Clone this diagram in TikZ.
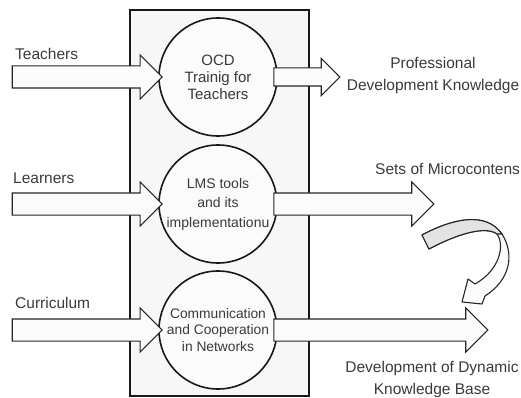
\documentclass[tikz,border=0pt]{standalone}
\usepackage{fontspec}
\setmainfont{Liberation Sans}
\usetikzlibrary{shapes.arrows, positioning}
\definecolor{inkgray}{HTML}{3A3A3A}

\begin{document}
\begin{tikzpicture}[x=1pt, y=-1pt,
    panel/.style   = {rectangle, draw=black!90, line width=2.6pt, fill=gray!6,
                      minimum width=179pt, minimum height=386pt, inner sep=0pt},
    stage/.style   = {circle, draw=black!90, line width=1.6pt, fill=gray!3,
                      minimum size=118pt, inner sep=0pt, align=center, text=inkgray},
    feed/.style    = {single arrow, draw=black!85, line width=1.1pt, fill=gray!3,
                      inner xsep=0pt, inner ysep=10.5pt, outer sep=0pt,
                      single arrow head extend=11pt},
    slimfeed/.style= {feed, inner ysep=8.5pt, single arrow head extend=9.5pt},
    lbl/.style     = {inner sep=0pt, text=inkgray, font=\fontsize{15.5}{22}\selectfont},
    ribbon/.style  = {draw=black!85, line width=1.1pt, line join=round}
  ]
  \useasboundingbox (0,0) rectangle (521,398);

  % -- frame and the three stages ---------------------------------------
  \node[panel] (frame) at (219.5,203) {};
  \node[stage, font=\fontsize{15}{17}\selectfont]     (ocd) at (218,77)  {OCD\\Trainig for\\Teachers};
  \node[stage, font=\fontsize{14}{19.5}\selectfont]   (lms) at (218,204) {LMS tools\\and its\\implementationu};
  \node[stage, font=\fontsize{13.8}{16.5}\selectfont] (net) at (218,330) {Communication\\and Cooperation\\in Networks};

  % -- inputs ------------------------------------------------------------
  \node[feed, minimum height=150pt, anchor=tip] (inteach) at ([xshift=4pt]ocd.west) {};
  \node[feed, minimum height=150pt, anchor=tip] (inlearn) at ([xshift=4pt]lms.west) {};
  \node[feed, minimum height=150pt, anchor=tip] (incurr)  at ([xshift=4pt]net.west) {};

  % -- outputs -----------------------------------------------------------
  \node[slimfeed, minimum height=66pt, anchor=tail] (outprof) at ([xshift=-4pt]ocd.east) {};
  \node[feed, minimum height=160pt, anchor=tail]    (outsets) at ([xshift=-4pt]lms.east) {};
  \node[feed, minimum height=214pt, anchor=tail]    (outbase) at ([xshift=-4pt]net.east) {};

  % -- labels ------------------------------------------------------------
  \node[lbl, anchor=base west] (tteach) at (15,60)  {Teachers};
  \node[lbl, anchor=base west] (tlearn) at (13,183) {Learners};
  \node[lbl, anchor=base west] (tcurr)  at (15,308) {Curriculum};
  \node[lbl, align=center] (tprof) at (433,75) {Professional\\Development Knowledge};
  \node[lbl, anchor=base west] (tsets) at (375,175) {Sets of Microcontens};
  \node[lbl, align=center] (tbase) at (432,379) {Development of Dynamic\\Knowledge Base};

  % -- curved ribbon arrow -----------------------------------------------
  \path[ribbon, fill=gray!3]
    (422,235) .. controls (450,220) and (485,210) .. (502,234)
    .. controls (515,255) and (510,280) .. (485,296)
    -- (482,304) -- (462,302) -- (468,279) -- (475,284)
    .. controls (500,270) and (505,245) .. (497,234)
    .. controls (485,225) and (455,235) .. (429,249) -- cycle;
  \path[ribbon, fill=gray!22]
    (422,235) .. controls (450,220) and (485,210) .. (502,234)
    -- (497,234) .. controls (485,225) and (455,235) .. (429,249) -- cycle;

\end{tikzpicture}
\end{document}
